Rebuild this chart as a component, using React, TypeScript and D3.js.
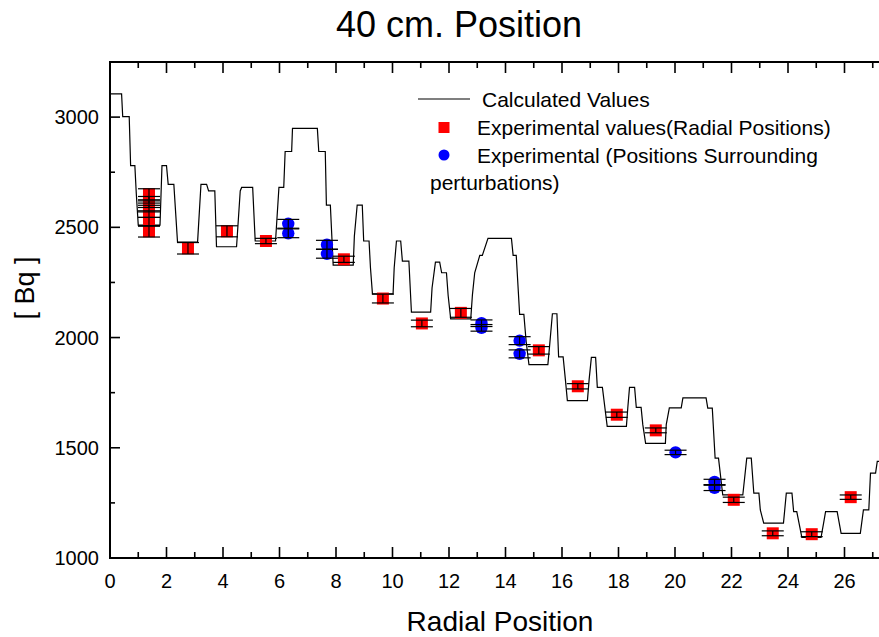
import React from 'react';
import * as d3 from 'd3';

// Calculated values (step-like curve)
const calcX = [0, 0.41, 0.45, 0.68, 0.73, 0.88, 0.93, 1.0, 1.77, 1.84, 2.0, 2.06, 2.26, 2.39, 3.1, 3.22, 3.42, 3.49, 3.71, 3.77, 4.48, 4.61, 4.66, 5.05, 5.14, 5.86, 5.98, 6.15, 6.2, 6.43, 6.46, 7.34, 7.39, 7.62, 7.66, 7.8, 7.9, 8.61, 8.65, 8.75, 8.93, 8.98, 9.17, 9.22, 9.29, 10.02, 10.06, 10.14, 10.29, 10.35, 10.58, 10.67, 11.35, 11.4, 11.52, 11.67, 11.74, 11.91, 11.97, 12.06, 12.77, 12.83, 12.91, 13.09, 13.18, 13.38, 14.21, 14.27, 14.38, 14.5, 14.65, 14.73, 14.83, 15.5, 15.56, 15.66, 15.82, 15.88, 16.04, 16.12, 16.19, 16.9, 16.96, 17.04, 17.19, 17.25, 17.43, 17.6, 18.28, 18.33, 18.39, 18.57, 18.63, 18.8, 18.86, 18.96, 19.66, 19.69, 19.8, 20.22, 20.28, 21.1, 21.16, 21.32, 21.42, 21.54, 21.69, 22.4, 22.54, 22.7, 22.79, 22.97, 23.02, 23.14, 23.84, 23.94, 24.14, 24.2, 24.31, 24.49, 25.17, 25.26, 25.33, 25.74, 25.88, 26.56, 26.67, 26.86, 26.92, 27.1, 27.16, 27.6];
const calcY = [3105, 3105, 3002, 3002, 2780, 2780, 2655, 2510, 2510, 2780, 2780, 2695, 2695, 2433, 2433, 2695, 2695, 2665, 2665, 2412, 2412, 2665, 2681, 2681, 2438, 2438, 2681, 2681, 2844, 2844, 2949, 2949, 2844, 2844, 2601, 2601, 2329, 2329, 2460, 2601, 2601, 2438, 2438, 2317, 2198, 2198, 2317, 2438, 2438, 2347, 2347, 2115, 2115, 2225, 2342, 2342, 2294, 2294, 2191, 2085, 2085, 2195, 2294, 2373, 2373, 2450, 2450, 2373, 2373, 2105, 2105, 1983, 1877, 1877, 1961, 2108, 2108, 1912, 1912, 1809, 1714, 1714, 1809, 1910, 1910, 1774, 1774, 1597, 1597, 1683, 1774, 1774, 1683, 1683, 1605, 1520, 1520, 1605, 1681, 1681, 1726, 1726, 1680, 1680, 1453, 1453, 1286, 1286, 1453, 1453, 1294, 1294, 1218, 1158, 1158, 1294, 1294, 1210, 1210, 1094, 1094, 1158, 1210, 1210, 1112, 1112, 1218, 1218, 1385, 1385, 1438, 1438];

// Experimental values (radial positions)
const radialX = [1.38, 1.38, 1.38, 1.38, 1.38, 1.38, 1.38, 2.76, 4.14, 5.52, 8.28, 9.66, 11.04, 12.42, 15.18, 16.56, 17.94, 19.32, 22.08, 23.46, 24.84, 26.22];
const radialY = [2650, 2625, 2605, 2585, 2560, 2525, 2482, 2405, 2482, 2438, 2355, 2177, 2064, 2112, 1942, 1779, 1650, 1579, 1264, 1112, 1108, 1276];
const radialErr = [25, 15, 15, 15, 15, 20, 26, 26, 25, 12, 14, 20, 15, 20, 17, 12, 12, 11, 12, 11, 11, 10];

// Experimental (positions surrounding perturbations)
const surroundX = [6.31, 6.31, 7.68, 7.68, 13.15, 13.15, 14.5, 14.5, 20.02, 21.4, 21.4];
const surroundY = [2516, 2473, 2421, 2380, 2065, 2044, 1986, 1926, 1479, 1345, 1318];
const surroundErr = [20, 20, 20, 20, 15, 15, 18, 18, 10, 12, 12];

const xMajorTicks = [0, 2, 4, 6, 8, 10, 12, 14, 16, 18, 20, 22, 24, 26, 28];
const xMinorTicks = [1, 3, 5, 7, 9, 11, 13, 15, 17, 19, 21, 23, 25, 27];
const xTickLabels = [0, 2, 4, 6, 8, 10, 12, 14, 16, 18, 20, 22, 24, 26];
const yMajorTicks = [1000, 1500, 2000, 2500, 3000];
const yMinorTicks = [1250, 1750, 2250, 2750];

const W = 879;
const H = 637;
const left = 110;
const top = 62;
const bottom = 558;
const right = 901;
const FONT = "'Liberation Sans', Arial, Helvetica, sans-serif";

export default function App() {
  const x = d3.scaleLinear().domain([0, 28]).range([left, right]);
  const y = d3.scaleLinear().domain([1000, 3250]).range([bottom, top]);

  const linePath = d3
    .line<number>()
    .x((_, i) => x(calcX[i]))
    .y((_, i) => y(calcY[i]))(calcX.map((_, i) => i));

  const capHalf = 11;

  const errorBars = (xs: number[], ys: number[], es: number[], key: string) =>
    xs.map((xv, i) => {
      const cx = x(xv);
      const y1 = y(ys[i] + es[i]);
      const y2 = y(ys[i] - es[i]);
      return (
        <g key={key + i} stroke="#000" strokeWidth={1.2}>
          <line x1={cx} x2={cx} y1={y1} y2={y2} />
          <line x1={cx - capHalf} x2={cx + capHalf} y1={y1} y2={y1} />
          <line x1={cx - capHalf} x2={cx + capHalf} y1={y2} y2={y2} />
        </g>
      );
    });

  return (
    <svg
      width={W}
      height={H}
      style={{ position: 'absolute', left: 0, top: 0, display: 'block', background: '#fff' }}
      fontFamily={FONT}
    >
      <defs>
        <clipPath id="plotClip">
          <rect x={left} y={top} width={right - left} height={bottom - top} />
        </clipPath>
      </defs>
      <rect x={0} y={0} width={W} height={H} fill="#fff" />

      {/* Title */}
      <text x={459} y={37} fontSize={36} textAnchor="middle" fill="#000">
        40 cm. Position
      </text>

      {/* Calculated values line */}
      <path d={linePath || ''} fill="none" stroke="#000" strokeWidth={1.2} clipPath="url(#plotClip)" />

      {/* Markers */}
      <g clipPath="url(#plotClip)">
        {radialX.map((xv, i) => (
          <rect key={'r' + i} x={x(xv) - 6} y={y(radialY[i]) - 6} width={12} height={12} fill="#ff0000" />
        ))}
        {surroundX.map((xv, i) => (
          <circle key={'b' + i} cx={x(xv)} cy={y(surroundY[i])} r={6.2} fill="#0000ff" />
        ))}
        {errorBars(radialX, radialY, radialErr, 're')}
        {errorBars(surroundX, surroundY, surroundErr, 'be')}
      </g>

      {/* Axes frame */}
      <g stroke="#000" strokeWidth={2} fill="none">
        <line x1={left} x2={left} y1={top} y2={bottom + 1} />
        <line x1={left - 1} x2={right} y1={bottom} y2={bottom} />
        <line x1={left - 1} x2={right} y1={top} y2={top} />
        <line x1={right} x2={right} y1={top} y2={bottom} />
      </g>

      {/* Ticks (bottom, top and left, inward) */}
      <g stroke="#000" strokeWidth={1.6}>
        {xMajorTicks.map((t) => (
          <g key={'xM' + t}>
            <line x1={x(t)} x2={x(t)} y1={bottom} y2={bottom - 11} />
            <line x1={x(t)} x2={x(t)} y1={top} y2={top + 11} />
          </g>
        ))}
        {xMinorTicks.map((t) => (
          <g key={'xm' + t}>
            <line x1={x(t)} x2={x(t)} y1={bottom} y2={bottom - 6} />
            <line x1={x(t)} x2={x(t)} y1={top} y2={top + 6} />
          </g>
        ))}
        {yMajorTicks.map((t) => (
          <line key={'yM' + t} x1={left} x2={left + 10} y1={y(t)} y2={y(t)} />
        ))}
        {yMinorTicks.map((t) => (
          <line key={'ym' + t} x1={left} x2={left + 5} y1={y(t)} y2={y(t)} />
        ))}
      </g>

      {/* Tick labels */}
      <g fontSize={20} fill="#000">
        {xTickLabels.map((t) => (
          <text key={'xl' + t} x={x(t)} y={588} textAnchor="middle">
            {t}
          </text>
        ))}
        {yMajorTicks.map((t) => (
          <text key={'yl' + t} x={99} y={y(t) + 7} textAnchor="end">
            {t}
          </text>
        ))}
      </g>

      {/* Axis titles */}
      <text x={500} y={631} fontSize={28} textAnchor="middle" fill="#000">
        Radial Position
      </text>
      <text
        transform={`translate(34, 288) rotate(-90)`}
        fontSize={27}
        textAnchor="middle"
        fill="#000"
      >
        [ Bq ]
      </text>

      {/* Legend */}
      <g fontSize={21} fill="#000">
        <line x1={418} x2={470} y1={99} y2={99} stroke="#000" strokeWidth={1.2} />
        <text x={482} y={107}>Calculated Values</text>
        <rect x={438.5} y={122} width={11} height={11} fill="#ff0000" />
        <text x={477} y={135}>Experimental values(Radial Positions)</text>
        <circle cx={444} cy={155} r={5.5} fill="#0000ff" />
        <text x={477} y={163}>Experimental (Positions Surrounding</text>
        <text x={430} y={190}>perturbations)</text>
      </g>
    </svg>
  );
}
